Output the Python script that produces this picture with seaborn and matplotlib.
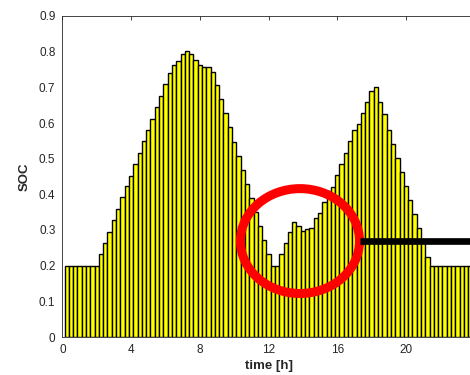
import matplotlib
matplotlib.use("Agg")
import numpy as np
import pandas as pd
import seaborn as sns
import matplotlib.pyplot as plt
from matplotlib.patches import Ellipse

# State of charge per 15-minute interval over one day (96 intervals)
soc = [
    0.200, 0.200, 0.200, 0.200, 0.200, 0.200, 0.200, 0.200,
    0.232, 0.263, 0.295, 0.327, 0.359, 0.392, 0.423, 0.452,
    0.485, 0.516, 0.549, 0.580, 0.612, 0.644, 0.676, 0.708,
    0.739, 0.763, 0.773, 0.793, 0.803, 0.793, 0.778, 0.763,
    0.758, 0.758, 0.743, 0.707, 0.666, 0.627, 0.588, 0.548,
    0.508, 0.469, 0.429, 0.390, 0.350, 0.310, 0.271, 0.232,
    0.200, 0.200, 0.233, 0.264, 0.295, 0.323, 0.312, 0.298,
    0.303, 0.306, 0.335, 0.347, 0.378, 0.409, 0.421, 0.453,
    0.485, 0.517, 0.549, 0.581, 0.596, 0.628, 0.660, 0.690,
    0.700, 0.660, 0.624, 0.581, 0.542, 0.503, 0.464, 0.423,
    0.384, 0.344, 0.305, 0.265, 0.225, 0.200, 0.200, 0.200,
    0.200, 0.200, 0.200, 0.200, 0.200, 0.200, 0.200, 0.200,
]
step_h = 0.25
time_h = [round(step_h * (i + 1), 4) for i in range(len(soc))]

x_ticks = [0, 4, 8, 12, 16, 20]
y_ticks = [0, 0.1, 0.2, 0.3, 0.4, 0.5, 0.6, 0.7, 0.8, 0.9]
y_tick_labels = ["0", "0.1", "0.2", "0.3", "0.4", "0.5", "0.6", "0.7", "0.8", "0.9"]

# Highlighted dip and reference level
dip_center = (13.83, 0.269)
dip_size = (6.93, 0.294)
level_start, level_end, level_value = 17.35, 24.5, 0.270

df = pd.DataFrame({"time": time_h, "soc": soc})

sns.set_theme(style="white")
plt.rcParams["font.family"] = ["Liberation Sans", "DejaVu Sans"]

W, H = 470, 375
fig = plt.figure(figsize=(W / 100, H / 100), dpi=100)
ax = fig.add_axes([62.4 / W, 38 / H, (474.7 - 62.4) / W, 321 / H])

sns.barplot(data=df, x="time", y="soc", native_scale=True, width=1,
            color="#FFFF00", saturation=1, edgecolor="black", linewidth=1.0,
            errorbar=None, ax=ax)

ax.set_xlim(0, 24)
ax.set_ylim(0, 0.9)
ax.set_xticks(x_ticks)
ax.set_xticklabels([str(t) for t in x_ticks])
ax.set_yticks(y_ticks)
ax.set_yticklabels(y_tick_labels)

axis_color = "#262626"
ax.tick_params(axis="both", direction="in", length=3, width=0.6,
               colors=axis_color, labelsize=8.5, top=True, right=True)
ax.tick_params(axis="y", pad=5)
ax.tick_params(axis="x", pad=5)
for s in ax.spines.values():
    s.set_visible(True)
    s.set_color(axis_color)
    s.set_linewidth(0.6)

ax.set_xlabel("time [h]", fontsize=9.5, fontweight="bold", color=axis_color, labelpad=3)
ax.set_ylabel("SOC", fontsize=9.5, fontweight="bold", color=axis_color, labelpad=6)

ax.add_patch(Ellipse(dip_center, dip_size[0], dip_size[1], fill=False,
                     edgecolor="#FF0000", linewidth=6.5, zorder=5, clip_on=False))
ax.plot([level_start, level_end], [level_value, level_value], color="black",
        linewidth=4.8, solid_capstyle="butt", zorder=6, clip_on=False)

fig.savefig("out.png", dpi=100)
